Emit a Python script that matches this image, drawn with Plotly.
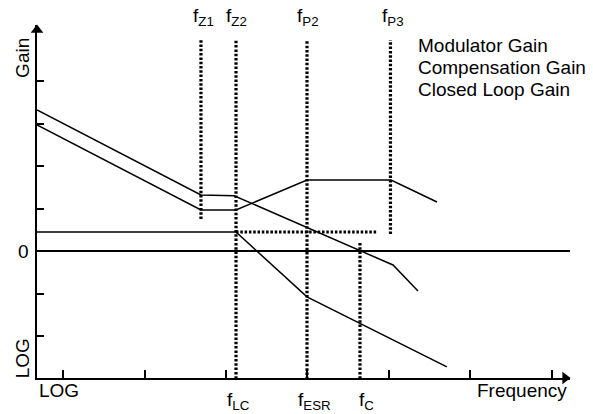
import plotly.graph_objects as go

# ---- data (x in log-frequency tick units, y in gain tick units) ----
comp_x = [0.681, 2.693, 3.123, 3.994, 5.025, 5.589]
comp_y = [2.965, 0.965, 0.965, 1.671, 1.671, 1.153]

closed_x = [0.681, 2.693, 3.1, 5.049, 5.356]
closed_y = [3.318, 1.318, 1.30, -0.329, -0.941]

mod_x = [0.681, 3.123, 3.994, 5.71]
mod_y = [0.447, 0.447, -1.08, -2.725]

# vertical dotted markers: x, y_bottom, y_top
vlines_x = [2.693, 3.123, 3.994, 5.018, 4.644]
vlines_y0 = [0.753, -3.106, -3.22, 0.40, -3.106]
vlines_y1 = [4.965, 4.965, 4.965, 4.965, 0.188]

hdot_x = [3.123, 4.853]
hdot_y = [0.447, 0.447]

top_labels = ["f<sub>Z1</sub>", "f<sub>Z2</sub>", "f<sub>P2</sub>", "f<sub>P3</sub>"]
top_label_x = [2.718, 3.135, 4.006, 5.049]
bottom_labels = ["f<sub>LC</sub>", "f<sub>ESR</sub>", "f<sub>C</sub>"]
bottom_label_x = [3.15, 4.08, 4.72]
legend_labels = ["Modulator Gain", "Compensation Gain", "Closed Loop Gain"]
legend_y = [4.847, 4.329, 3.812]

x_ticks = [1, 2, 3, 4, 5, 6, 7]
y_ticks = [-2, -1, 1, 2, 3, 4]

X0, X1 = 0.681, 7.221
Y0, Y1 = -2.988, 5.318

FONT = "Arial, Liberation Sans, sans-serif"
fig = go.Figure()

line_style = dict(color="black", width=1.5)
for xs, ys in [(comp_x, comp_y), (closed_x, closed_y), (mod_x, mod_y)]:
    fig.add_trace(go.Scatter(x=xs, y=ys, mode="lines", line=line_style,
                             showlegend=False, hoverinfo="skip", cliponaxis=False))

dot_style = dict(color="black", width=3.2, dash="2.5px,1.8px")
for x, a, b in zip(vlines_x, vlines_y0, vlines_y1):
    fig.add_trace(go.Scatter(x=[x, x], y=[a, b], mode="lines", line=dot_style,
                             showlegend=False, hoverinfo="skip", cliponaxis=False))
fig.add_trace(go.Scatter(x=hdot_x, y=hdot_y, mode="lines", line=dot_style,
                         showlegend=False, hoverinfo="skip", cliponaxis=False))

# axis arrowheads
fig.add_trace(go.Scatter(x=[X0], y=[Y1 - 0.12], mode="markers",
                         marker=dict(symbol="triangle-up", size=11, color="black"),
                         showlegend=False, hoverinfo="skip", cliponaxis=False))
fig.add_trace(go.Scatter(x=[X1 - 0.06], y=[Y0], mode="markers",
                         marker=dict(symbol="triangle-right", size=11, color="black"),
                         showlegend=False, hoverinfo="skip", cliponaxis=False))

ann = []
def txt(x, y, t, xanchor="center", yanchor="middle", angle=0):
    px = (x - X0) / (X1 - X0)
    py = (y - Y0) / (Y1 - Y0)
    ann.append(dict(x=px, y=py, xref="paper", yref="paper", text=t, showarrow=False,
                    xanchor=xanchor, yanchor=yanchor, textangle=angle,
                    font=dict(family=FONT, size=19, color="black")))

for t, x in zip(top_labels, top_label_x):
    txt(x, 5.5, t)
for t, x in zip(bottom_labels, bottom_label_x):
    txt(x, -3.52, t)
for t, y in zip(legend_labels, legend_y):
    txt(5.33, y, t, xanchor="left")
txt(0.52, 0, "0")
txt(0.50, 4.55, "Gain", angle=-90)
txt(0.50, -2.52, "LOG", angle=-90)
txt(0.68, -3.28, "LOG", xanchor="left")
txt(7.21, -3.28, "Frequency", xanchor="right")

fig.update_layout(
    width=593, height=414,
    margin=dict(l=37, r=23, t=25, b=36),
    paper_bgcolor="white", plot_bgcolor="white",
    annotations=ann,
    xaxis=dict(range=[X0, X1], showgrid=False, zeroline=False, showline=True,
               linecolor="black", linewidth=2, ticks="inside", ticklen=8,
               tickwidth=1.5, tickcolor="black", tickvals=x_ticks,
               showticklabels=False, fixedrange=True),
    yaxis=dict(range=[Y0, Y1], showgrid=False, zeroline=True, zerolinecolor="black",
               zerolinewidth=1.5, showline=True, linecolor="black", linewidth=2,
               ticks="inside", ticklen=7, tickwidth=1.5, tickcolor="black",
               tickvals=y_ticks, showticklabels=False, fixedrange=True),
)

fig.write_html("out.html", config={"displayModeBar": False},
               post_script="document.body.style.margin='0';")
